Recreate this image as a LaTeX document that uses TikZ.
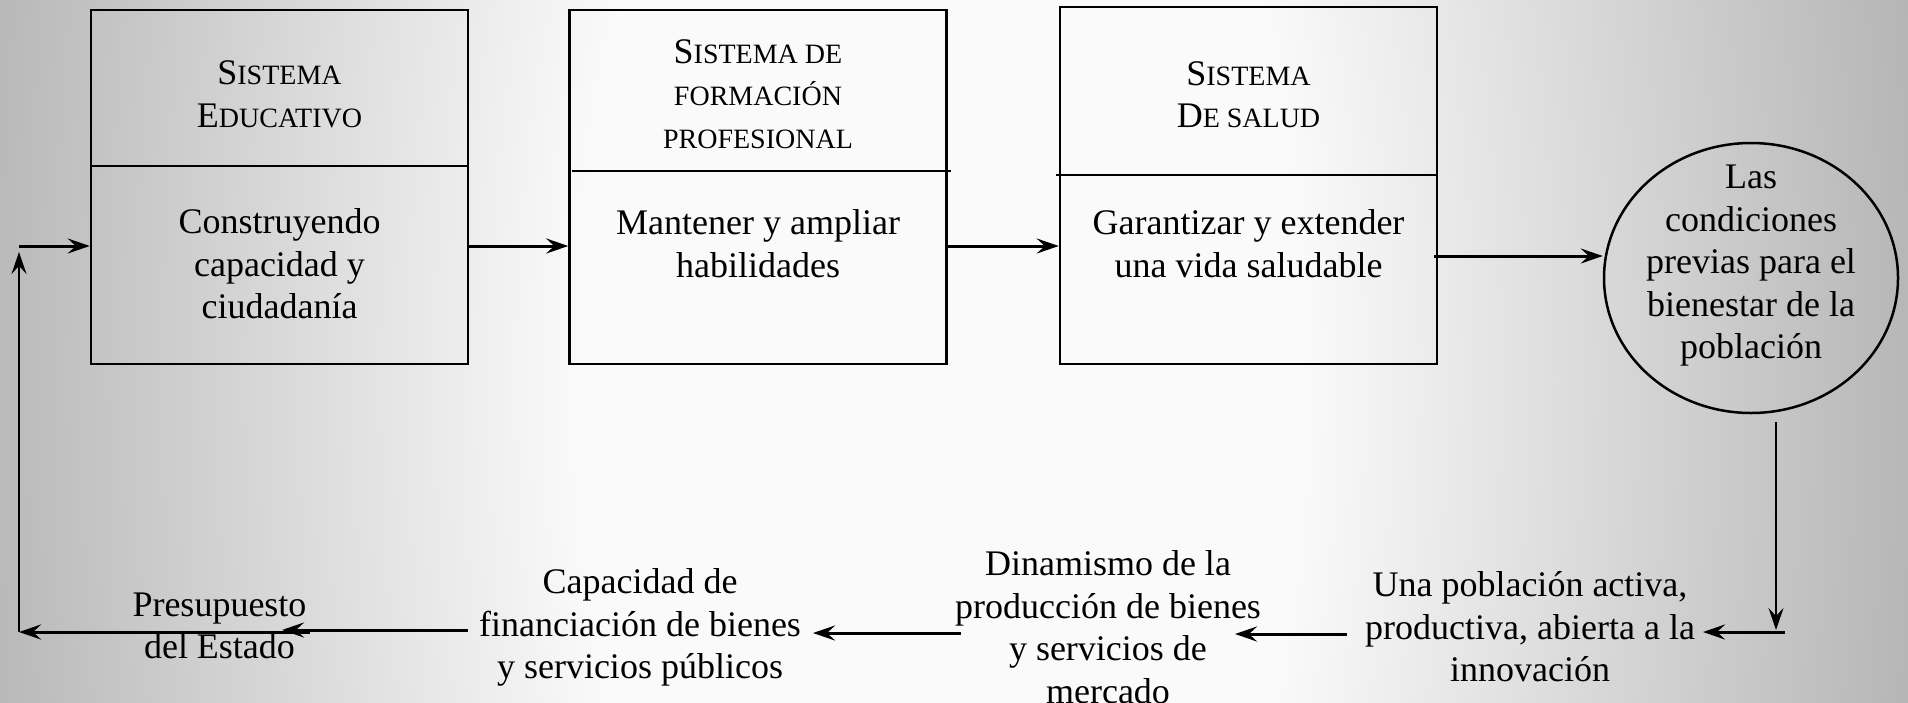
\documentclass[tikz,border=0pt]{standalone}
\usepackage{fontspec}
\setmainfont{Liberation Serif}
\usetikzlibrary{arrows.meta,shapes.geometric,calc}
\definecolor{bggray}{HTML}{A6A6A6}
\definecolor{bgwhite}{HTML}{FAFAFA}
\pgfdeclareradialshading{bgrad}{\pgfpoint{0bp}{0bp}}{color(0bp)=(bgwhite); color(9bp)=(bgwhite); color(28bp)=(bggray); color(50bp)=(bggray); color(100bp)=(bggray)}
\newcommand{\SC}[1]{{\fontsize{28}{42.5}\selectfont #1}}
\begin{document}
\begin{tikzpicture}[x=1pt,y=-1pt,
  txt/.style={align=center, font=\fontsize{36}{42.5}\selectfont, inner sep=0pt},
  boxst/.style={draw, line width=2.5pt, minimum width=377pt, minimum height=354pt, inner sep=0pt},
  divst/.style={line width=2.5pt},
  arr/.style={line width=3pt, -{Stealth[length=22pt,width=15pt,inset=8pt]}},
  varr/.style={line width=2pt, -{Stealth[length=22pt,width=15pt,inset=8pt]}}]
\useasboundingbox (0,0) rectangle (1908,702);
\fill[bggray] (0,0) rectangle (1908,702);
\begin{scope}
\clip (0,0) rectangle (1908,702);
\shade[shading=bgrad] (940,380) ellipse [x radius=1000pt, y radius=2200pt];
\end{scope}
% boxes
\node[boxst] (box1) at (279.5,187) {};
\node[boxst] (box2) at (758,187) {};
\node[boxst, minimum height=357pt] (box3) at (1248.5,185.5) {};
\draw[divst] ([yshift=-157pt]box1.north west) -- ([yshift=-157pt]box1.north east);
\draw[divst] ([xshift=4pt,yshift=-162pt]box2.north west) -- ([xshift=3pt,yshift=-162pt]box2.north east);
\draw[divst] ([xshift=-3pt,yshift=-169pt]box3.north west) -- ([yshift=-169pt]box3.north east);
% texts
\node[txt] (h1) at (279.5,94.5) {S\SC{ISTEMA}\\E\SC{DUCATIVO}};
\node[txt] (b1) at (279.5,264) {Construyendo\\capacidad y\\ciudadanía};
\node[txt] (h2) at (758,94) {S\SC{ISTEMA DE}\\\SC{FORMACIÓN}\\\SC{PROFESIONAL}};
\node[txt] (b2) at (758,243.5) {Mantener y ampliar\\habilidades};
\node[txt] (h3) at (1248.5,94.5) {S\SC{ISTEMA}\\D\SC{E SALUD}};
\node[txt] (b3) at (1248.5,243.5) {Garantizar y extender\\una vida saludable};
\node[draw, ellipse, line width=2.5pt, minimum width=294pt, minimum height=270pt, inner sep=0pt] (ell) at (1751,278) {};
\node[txt] (et) at (1751,266) {Las\\condiciones\\previas para el\\bienestar de la\\población};
\node[txt] (una) at (1530,627) {Una población activa,\\productiva, abierta a la\\innovación};
\node[txt] (dina) at (1108,627) {Dinamismo de la\\producción de bienes\\y servicios de\\mercado};
\node[txt] (cap) at (640,627.5) {Capacidad de\\financiación de bienes\\y servicios públicos};
\node[txt] (pres) at (219.5,626) {Presupuesto\\del Estado};
\coordinate (rc) at (1776,632);
\coordinate (lc) at (19,632);
\coordinate (lt) at (19,246);
% connectors
\draw[arr] ([yshift=-59pt]box1.east) -- ([yshift=-59pt]box2.west);
\draw[arr] ([yshift=-59pt]box2.east) -- ([yshift=-60.5pt]box3.west);
\draw[arr] ([xshift=-4pt,yshift=-70.5pt]box3.east) -- ([yshift=22pt]ell.west);
\draw[varr] ([xshift=25pt,yshift=-8pt]ell.south) -- ([yshift=2pt]rc);
\draw[arr] ([xshift=9pt]rc) -- ([xshift=173pt,yshift=-5pt]una.center);
\draw[arr] ([xshift=-183pt,yshift=-7pt]una.center) -- ([xshift=127pt,yshift=-7pt]dina.center);
\draw[arr] ([xshift=-147pt,yshift=-6pt]dina.center) -- ([xshift=173pt,yshift=-5.5pt]cap.center);
\draw[arr] ([xshift=-172pt,yshift=-2.5pt]cap.center) -- ([xshift=62.5pt,yshift=-4pt]pres.center);
\draw[arr] ([xshift=90pt,yshift=-6pt]pres.center) -- (lc);
\draw[varr] (lc) -- ([yshift=-6pt]lt);
\draw[arr] (lt) -- ([yshift=-59pt]box1.west);
\end{tikzpicture}
\end{document}
